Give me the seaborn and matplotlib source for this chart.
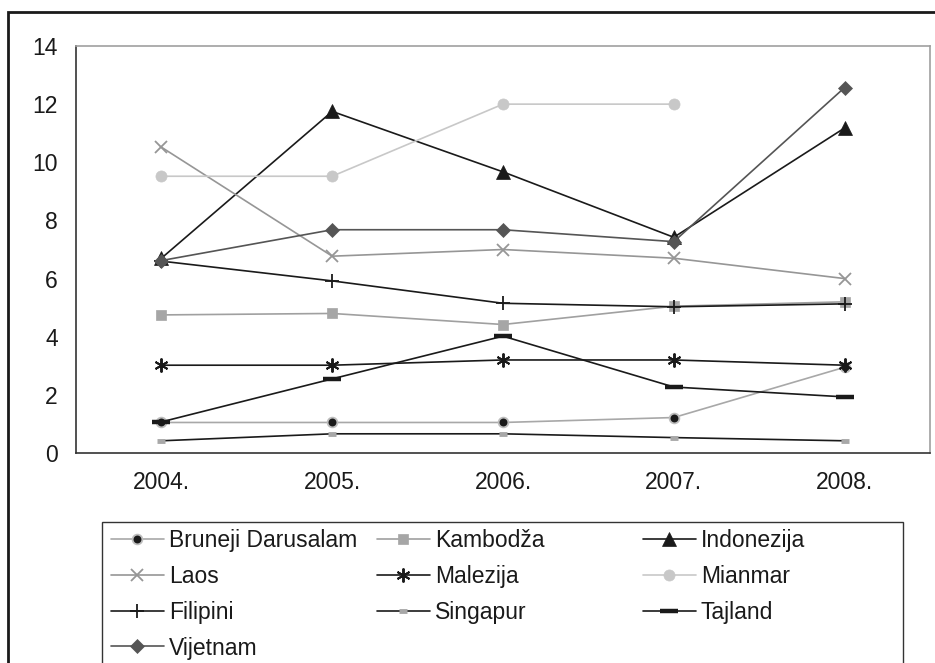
import numpy as np
import pandas as pd
import matplotlib
matplotlib.use("Agg")
import matplotlib.pyplot as plt
import matplotlib.patches as mpatches
import seaborn as sns

years = ["2004.", "2005.", "2006.", "2007.", "2008."]
bruneji = [1.05, 1.05, 1.05, 1.22, 2.95]
kambodza = [4.75, 4.8, 4.42, 5.05, 5.2]
indonezija = [6.7, 11.75, 9.67, 7.42, 11.18]
laos = [10.52, 6.77, 7.0, 6.7, 6.0]
malezija = [3.02, 3.02, 3.2, 3.2, 3.02]
mianmar = [9.52, 9.52, 12.0, 12.0, np.nan]
filipini = [6.6, 5.92, 5.15, 5.03, 5.13]
singapur = [0.42, 0.66, 0.66, 0.53, 0.42]
tajland = [1.07, 2.55, 4.02, 2.27, 1.93]
vijetnam = [6.62, 7.68, 7.68, 7.27, 12.57]

series_names = ["Bruneji Darusalam", "Kambodža", "Indonezija", "Laos", "Malezija",
                "Mianmar", "Filipini", "Singapur", "Tajland", "Vijetnam"]
series_values = [bruneji, kambodza, indonezija, laos, malezija,
                 mianmar, filipini, singapur, tajland, vijetnam]
yticks = [0, 2, 4, 6, 8, 10, 12, 14]

styles = {
    "Bruneji Darusalam": dict(color="#a8a8a8", marker="o", markersize=7, markerfacecolor="#1a1a1a", markeredgecolor="#bdbdbd", markeredgewidth=1.3),
    "Kambodža": dict(color="#a0a0a0", marker="s", markersize=7.5, markerfacecolor="#a6a6a6", markeredgecolor="#a6a6a6", markeredgewidth=0.5),
    "Indonezija": dict(color="#1a1a1a", marker="^", markersize=9.5, markerfacecolor="#1a1a1a", markeredgecolor="#1a1a1a", markeredgewidth=0.5),
    "Laos": dict(color="#969696", marker="x", markersize=9, markerfacecolor="#969696", markeredgecolor="#969696", markeredgewidth=1.3),
    "Malezija": dict(color="#1a1a1a", marker=(6, 2, 0), markersize=10, markerfacecolor="#1a1a1a", markeredgecolor="#1a1a1a", markeredgewidth=1.4),
    "Mianmar": dict(color="#c8c8c8", marker="o", markersize=8, markerfacecolor="#c8c8c8", markeredgecolor="#c8c8c8", markeredgewidth=0.5),
    "Filipini": dict(color="#1a1a1a", marker="+", markersize=10, markerfacecolor="#1a1a1a", markeredgecolor="#1a1a1a", markeredgewidth=1.3),
    "Singapur": dict(color="#1a1a1a", marker="_", markersize=6, markerfacecolor="#a8a8a8", markeredgecolor="#a8a8a8", markeredgewidth=3.5),
    "Tajland": dict(color="#1a1a1a", marker="_", markersize=13, markerfacecolor="#1a1a1a", markeredgecolor="#1a1a1a", markeredgewidth=3.2),
    "Vijetnam": dict(color="#555555", marker="D", markersize=7, markerfacecolor="#555555", markeredgecolor="#555555", markeredgewidth=0.5),
}

FS = 16.5
sns.set_style("white")
plt.rcParams["font.family"] = ["Liberation Sans", "DejaVu Sans"]
plt.rcParams["font.size"] = FS

fig = plt.figure(figsize=(9.35, 6.63), dpi=100)
W, H = 935.0, 663.0
ax = fig.add_axes([76 / W, 1 - 453 / H, (930 - 76) / W, (453 - 46) / H])

x_pos = np.arange(len(years))
for name, vals in zip(series_names, series_values):
    df = pd.DataFrame({"x": x_pos, "y": vals}).dropna()
    sns.lineplot(data=df, x="x", y="y", ax=ax, label=name, linewidth=1.2,
                 errorbar=None, **styles[name])

ax.set_xlim(-0.5, len(years) - 0.5)
ax.set_ylim(0, 14)
ax.set_yticks(yticks)
ax.set_yticklabels([str(v) for v in yticks])
ax.set_xticks(np.arange(-0.5, len(years), 1.0))
ax.set_xticklabels([])
ax.set_xticks(x_pos, minor=True)
ax.set_xticklabels(years, minor=True)
ax.tick_params(axis="x", which="major", direction="out", length=6, width=1, color="#333333")
ax.tick_params(axis="x", which="minor", length=0, pad=13, labelsize=FS, labelcolor="#1a1a1a")
ax.tick_params(axis="y", direction="out", length=6, width=1, color="#333333", pad=7,
               labelsize=FS, labelcolor="#1a1a1a")
ax.set_xlabel("")
ax.set_ylabel("")
for side in ["left", "bottom"]:
    ax.spines[side].set_color("#333333")
    ax.spines[side].set_linewidth(1.2)
for side in ["top", "right"]:
    ax.spines[side].set_color("#a0a0a0")
    ax.spines[side].set_linewidth(1.2)

handles, labels = ax.get_legend_handles_labels()
ax.get_legend().remove()
hmap = dict(zip(labels, handles))

columns = [["Bruneji Darusalam", "Laos", "Filipini", "Vijetnam"],
           ["Kambodža", "Malezija", "Singapur"],
           ["Indonezija", "Mianmar", "Tajland"]]
col_x = [111, 377, 643]
for cx, col in zip(col_x, columns):
    leg = fig.legend([hmap[n] for n in col], col, loc="upper left",
                     bbox_to_anchor=(cx / W, 1 - 529 / H), frameon=False,
                     borderpad=0, borderaxespad=0, handlelength=2.3,
                     handletextpad=0.22, labelspacing=0.56, fontsize=FS)
    for t in leg.get_texts():
        t.set_color("#1a1a1a")

# legend box
fig.patches.append(mpatches.Rectangle((102 / W, -0.05), (903 - 102) / W, 0.05 + (663 - 522) / H,
                                      transform=fig.transFigure, fill=False,
                                      edgecolor="#333333", linewidth=1.0))
# outer frame
fig.patches.append(mpatches.Rectangle((8 / W, -0.05), 1.1, 0.05 + (663 - 12) / H,
                                      transform=fig.transFigure, fill=False,
                                      edgecolor="#1a1a1a", linewidth=2.0))

fig.savefig("out.png", dpi=100)
